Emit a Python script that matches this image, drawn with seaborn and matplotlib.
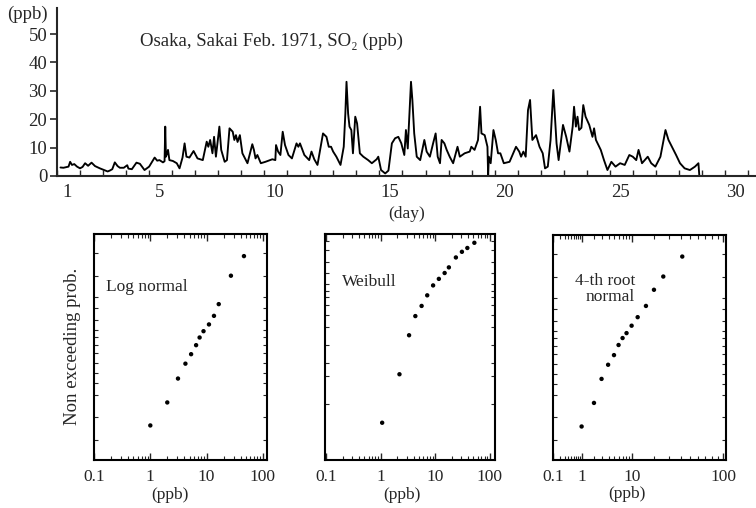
import matplotlib
matplotlib.use("Agg")
import matplotlib.pyplot as plt
import seaborn as sns
import numpy as np
from matplotlib.ticker import FixedLocator, FixedFormatter, NullFormatter

# ---------------- data ----------------
day = [0.70, 0.83, 0.95, 1.05, 1.12, 1.20, 1.30, 1.42, 1.55, 1.66, 1.77, 1.90, 2.05, 2.20, 2.41,
       2.60, 2.75, 2.84, 2.95, 3.06, 3.18, 3.28, 3.45, 3.60, 3.65, 3.80, 4.00, 4.15, 4.35, 4.55,
       4.79, 4.90, 5.00, 5.15, 5.22, 5.25, 5.28, 5.33, 5.37, 5.43, 5.58, 5.75, 5.87, 6.00, 6.09,
       6.17, 6.30, 6.48, 6.65, 6.88, 7.05, 7.12, 7.20, 7.30, 7.37, 7.45, 7.60, 7.68, 7.83, 7.93,
       8.04, 8.18, 8.25, 8.32, 8.39, 8.49, 8.60, 8.82, 9.03, 9.10, 9.17, 9.25, 9.40, 9.60, 9.90,
       10.03, 10.06, 10.15, 10.25, 10.35, 10.45, 10.60, 10.75, 10.95, 11.03, 11.10, 11.29, 11.50,
       11.60, 11.72, 11.86, 12.10, 12.25, 12.35, 12.45, 12.54, 12.68, 12.86, 13.00, 13.07, 13.12,
       13.19, 13.25, 13.33, 13.40, 13.50, 13.58, 13.70, 13.85, 14.06, 14.22, 14.43, 14.50, 14.62,
       14.80, 14.94, 15.09, 15.23, 15.37, 15.50, 15.63, 15.70, 15.78, 15.92, 15.98, 16.06, 16.17,
       16.32, 16.50, 16.60, 16.74, 16.88, 16.99, 17.08, 17.18, 17.25, 17.37, 17.47, 17.60, 17.75,
       17.94, 18.04, 18.25, 18.47, 18.54, 18.68, 18.83, 18.92, 18.98, 19.12, 19.24, 19.27, 19.30,
       19.38, 19.50, 19.60, 19.70, 19.80, 19.95, 20.20, 20.48, 20.62, 20.70, 20.80, 20.90, 21.00,
       21.09, 21.19, 21.35, 21.50, 21.64, 21.74, 21.86, 21.98, 22.10, 22.17, 22.24, 22.33, 22.52,
       22.66, 22.80, 22.94, 23.00, 23.08, 23.15, 23.22, 23.32, 23.40, 23.50, 23.66, 23.80, 23.87,
       23.95, 24.16, 24.30, 24.45, 24.62, 24.80, 25.00, 25.20, 25.40, 25.55, 25.70, 25.80, 25.95,
       26.20, 26.35, 26.53, 26.75, 26.97, 27.10, 27.25, 27.43, 27.60, 27.80, 28.03, 28.25, 28.40,
       28.44]
so2 = [3.0, 2.9, 3.1, 3.3, 5.0, 3.9, 4.2, 3.3, 2.7, 3.2, 4.5, 3.6, 4.7, 3.5, 2.7,
       2.1, 1.6, 1.9, 2.4, 4.8, 3.5, 2.9, 2.9, 3.8, 2.6, 2.4, 4.7, 4.3, 2.1, 3.3,
       6.5, 5.4, 5.6, 4.8, 5.2, 17.4, 6.8, 8.0, 9.2, 5.6, 5.3, 4.5, 2.7, 6.5, 11.5,
       6.8, 6.5, 8.8, 6.2, 5.6, 12.1, 10.3, 12.7, 8.0, 13.8, 6.8, 17.4, 9.2, 5.0, 5.6,
       16.8, 15.6, 12.7, 14.4, 12.0, 14.4, 8.0, 4.5, 11.2, 9.2, 6.2, 7.4, 4.5, 5.0, 5.9,
       5.6, 10.9, 8.6, 7.4, 15.6, 10.9, 7.4, 6.2, 11.5, 10.3, 11.5, 7.4, 5.6,
       8.6, 5.9, 3.9, 15.0, 13.8, 10.3, 10.3, 8.6, 6.8, 3.9, 10.3, 22.0, 33.2,
       22.0, 17.4, 16.2, 8.0, 20.9, 18.5, 8.0, 6.8, 5.6, 4.5, 5.9, 6.8, 2.1,
       0.9, 1.9, 11.5, 13.3, 13.8, 11.5, 7.4, 16.2, 9.7, 33.2, 26.8, 15.0, 6.8,
       5.6, 12.7, 8.6, 6.8, 11.5, 15.0, 6.8, 4.5, 12.7, 11.5, 9.2, 6.8, 4.5,
       10.3, 6.8, 8.0, 8.6, 10.3, 9.2, 12.7, 24.4, 15.0, 14.4, 10.3, 0.0, 6.8,
       4.5, 16.2, 12.7, 8.0, 8.0, 4.5, 5.0, 10.3, 8.6, 6.8, 8.6, 6.8, 23.2,
       26.8, 12.7, 14.4, 10.3, 8.0, 2.7, 3.3, 12.7, 30.3, 20.9, 11.5, 5.6, 18.0,
       13.8, 8.6, 17.4, 24.4, 17.4, 20.9, 16.2, 17.0, 25.0, 20.9, 18.0, 13.8, 16.8,
       12.7, 9.2, 5.6, 2.1, 5.0, 3.3, 4.5, 3.9, 7.4, 6.8, 5.6, 9.2, 4.5,
       6.8, 4.5, 3.3, 6.8, 16.2, 12.7, 10.3, 7.4, 4.5, 2.7, 2.1, 3.3, 4.5,
       0.0]

day_ticks = [1, 5, 10, 15, 20, 25, 30]
ppb_ticks = [0, 10, 20, 30, 40, 50]

# probability-paper plots: x = concentration (ppb), y = position on probability paper (0-1)
lognorm_ppb = [1.0, 2.0, 3.1, 4.2, 5.3, 6.5, 7.5, 8.8, 11.0, 13.5, 16.4, 27.0, 46.0]
lognorm_pos = [0.151, 0.253, 0.359, 0.425, 0.467, 0.507, 0.541, 0.569, 0.599, 0.637, 0.689, 0.815, 0.902]
weibull_ppb = [1.06, 2.2, 3.3, 4.3, 5.6, 7.1, 9.1, 11.6, 14.8, 17.7, 23.8, 30.7, 38.6, 51.9]
weibull_pos = [0.163, 0.378, 0.551, 0.636, 0.681, 0.728, 0.772, 0.801, 0.827, 0.852, 0.896, 0.921, 0.938, 0.961]
root4_ppb = [1.0, 2.0, 2.9, 3.9, 5.0, 6.0, 7.0, 8.1, 9.7, 11.9, 15.5, 19.7, 25.6, 41.6]
root4_pos = [0.147, 0.252, 0.359, 0.422, 0.465, 0.510, 0.541, 0.563, 0.596, 0.634, 0.684, 0.756, 0.815, 0.904]

normal_paper_ticks = [0.088, 0.188, 0.288, 0.338, 0.382, 0.427, 0.471, 0.507, 0.542, 0.573,
                      0.618, 0.671, 0.720, 0.815, 0.916]
weibull_paper_ticks = [0.247, 0.369, 0.428, 0.507, 0.588, 0.643, 0.684, 0.719, 0.747, 0.778,
                       0.828, 0.877, 0.929, 0.970]
ppb_major = [0.1, 1, 10, 100]
ppb_major_labels = ["0.1", "1", "10", "100"]
ppb_minor = [0.2, 0.3, 0.4, 0.5, 0.6, 0.7, 0.8, 0.9, 2, 3, 4, 5, 6, 7, 8, 9,
             20, 30, 40, 50, 60, 70, 80, 90]

# ---------------- style ----------------
sns.set_style("ticks")
plt.rcParams['font.family'] = ['Liberation Serif', 'DejaVu Serif']
plt.rcParams['axes.linewidth'] = 1.5

W, H = 756, 508
fig = plt.figure(figsize=(W / 100, H / 100), dpi=100)

def frac(l, t, r, b):
    return [l / W, 1 - b / H, (r - l) / W, (b - t) / H]

# ---------------- top time series ----------------
ax = fig.add_axes(frac(57, 8, 756, 176))
sns.lineplot(x=day, y=so2, ax=ax, color="black", linewidth=1.35, estimator=None, sort=False)
ax.set_xlim(0.70, 30.9)
ax.set_ylim(0, 59.2)
sns.despine(ax=ax)
ax.set_xticks(day_ticks)
ax.set_xticklabels([str(d) for d in day_ticks])
ax.set_xticks([d + 0.55 for d in range(0, 31)], minor=True)
ax.tick_params(axis="x", which="major", length=0, pad=6, labelsize=13.5)
ax.tick_params(axis="x", which="minor", direction="in", length=4, width=1)
ax.set_yticks(ppb_ticks)
ax.set_yticklabels([str(v) for v in ppb_ticks])
ax.tick_params(axis="y", which="major", direction="out", length=5, width=1.2, pad=2, labelsize=13.5)
ax.set_xlabel("(day)", fontsize=12.5, labelpad=3)
ax.set_ylabel("")
ax.text(0.119, 0.80, "Osaka, Sakai Feb. 1971, SO\u2082 (ppb)", transform=ax.transAxes,
        fontsize=13.5, va="center", ha="left")
fig.text(27 / W, 1 - 14 / H, "(ppb)", fontsize=13.5, ha="center", va="center")

# ---------------- bottom probability plots ----------------
panels = [
    (frac(94, 234, 267, 459.5), lognorm_ppb, lognorm_pos, "log", normal_paper_ticks, "Log normal", (0.07, 0.765), "left", 0.44),
    (frac(325, 234, 495, 459.5), weibull_ppb, weibull_pos, "log", weibull_paper_ticks, "Weibull", (0.10, 0.785), "left", 0.45),
    (frac(553, 235, 726, 459.5), root4_ppb, root4_pos, "root4", normal_paper_ticks, "4-th root\nnormal", (0.475, 0.76), "right", 0.43),
]

for i, (rect, xs, ys, kind, yt, name, tpos, ha, lx) in enumerate(panels):
    a = fig.add_axes(rect)
    if kind == "log":
        a.set_xscale("log")
    else:
        a.set_xscale("function", functions=(lambda v: np.power(np.clip(v, 0, None), 0.25),
                                            lambda v: np.power(v, 4)))
    sns.scatterplot(x=xs, y=ys, ax=a, color="black", s=10, linewidth=0, edgecolor="none")
    if i == 0:
        a.set_xlim(0.1, 118)
    elif i == 1:
        a.set_xlim(0.095, 124)
    else:
        a.set_xlim(0.1, 106)
    a.set_ylim(0, 1)
    a.xaxis.set_major_locator(FixedLocator(ppb_major))
    a.xaxis.set_major_formatter(FixedFormatter(ppb_major_labels))
    a.xaxis.set_minor_locator(FixedLocator(ppb_minor))
    a.xaxis.set_minor_formatter(NullFormatter())
    a.yaxis.set_major_locator(FixedLocator(yt))
    a.yaxis.set_major_formatter(NullFormatter())
    a.yaxis.set_minor_locator(FixedLocator([]))
    a.tick_params(axis="x", which="major", direction="in", length=5, width=1,
                  top=True, bottom=True, labelsize=12.5, pad=7)
    a.tick_params(axis="x", which="minor", direction="in", length=3, width=0.8,
                  top=True, bottom=True)
    a.tick_params(axis="y", which="major", direction="in", length=3, width=0.8,
                  left=True, right=True)
    for s in a.spines.values():
        s.set_visible(True)
        s.set_linewidth(1.5)
        s.set_color("black")
    a.set_xlabel("(ppb)", fontsize=12.5, labelpad=4)
    a.xaxis.set_label_coords(lx, -0.12)
    a.set_ylabel("")
    a.text(tpos[0], tpos[1], name, transform=a.transAxes, fontsize=12.5,
           ha=ha, va="center", linespacing=1.0)
    if i == 0:
        a.set_ylabel("Non exceeding prob.", fontsize=13.5, labelpad=6)

fig.savefig("out.png", dpi=100)
